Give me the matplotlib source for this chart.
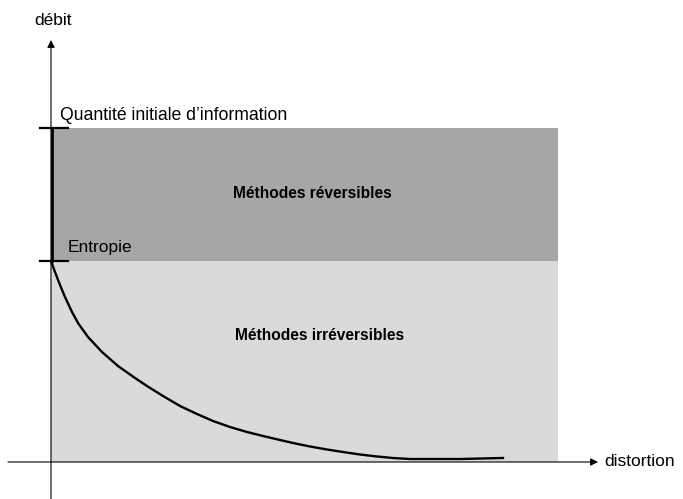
import numpy as np
import matplotlib
matplotlib.use('agg')
from matplotlib import pyplot as plt
import matplotlib.patches as mpatches

plt.rcParams['font.family'] = ['Liberation Sans', 'DejaVu Sans']

# levels of the two zones (debit units)
entropie = 2.01
quantite_initiale = 3.34
distortion_max = 5.07

# rate-distortion curve
distortion = [0.0, 0.04, 0.09, 0.14, 0.21, 0.27, 0.37, 0.51, 0.67, 0.84, 0.96,
              1.12, 1.29, 1.46, 1.62, 1.79, 1.96, 2.12, 2.29, 2.42, 2.59, 2.76,
              2.92, 3.09, 3.26, 3.42, 3.59, 4.09, 4.52]
debit = [2.01, 1.90, 1.77, 1.65, 1.50, 1.39, 1.25, 1.10, 0.96, 0.84, 0.76,
         0.66, 0.56, 0.48, 0.41, 0.35, 0.30, 0.26, 0.22, 0.19, 0.155, 0.125,
         0.10, 0.075, 0.055, 0.04, 0.03, 0.03, 0.04]

zone_labels = ['Méthodes réversibles', 'Méthodes irréversibles']

fig = plt.figure(figsize=(6.83, 4.99), dpi=100)
ax = fig.add_axes([0, 0, 1, 1])
ax.set_xlim(-0.51, 6.32)
ax.set_ylim(-0.37, 4.62)
ax.axis('off')

# shaded zones
ax.add_patch(mpatches.Rectangle((0, entropie), distortion_max, quantite_initiale - entropie,
                                facecolor='#a6a6a6', edgecolor='none', zorder=1))
ax.add_patch(mpatches.Rectangle((0, 0), distortion_max, entropie,
                                facecolor='#dadada', edgecolor='none', zorder=1))

# axes with arrows
ax.annotate('', xy=(5.47, 0), xytext=(-0.43, 0),
            arrowprops=dict(arrowstyle='-|>', lw=0.8, color='black', mutation_scale=11, shrinkA=0, shrinkB=0),
            zorder=3)
ax.annotate('', xy=(0, 4.22), xytext=(0, -0.37),
            arrowprops=dict(arrowstyle='-|>', lw=0.8, color='black', mutation_scale=11, shrinkA=0, shrinkB=0),
            zorder=3)

# thick segment between entropy and initial quantity, with ticks
ax.plot([0.01, 0.01], [entropie, quantite_initiale], color='black', lw=2.0, zorder=4)
for lvl in [entropie, quantite_initiale]:
    ax.plot([-0.11, 0.17], [lvl, lvl], color='black', lw=1.6, zorder=4)

# curve
ax.plot(distortion, debit, color='black', lw=1.7, zorder=5, solid_joinstyle='round')

# texts
ax.text(0.02, 4.42, 'débit', fontsize=12.5, ha='center', va='center')
ax.text(5.53, 0.01, 'distortion', fontsize=12.5, ha='left', va='center')
ax.text(0.09, 3.47, 'Quantité initiale d\u2019information', fontsize=12.7, ha='left', va='center')
ax.text(0.17, 2.15, 'Entropie', fontsize=12.5, ha='left', va='center')
ax.text(2.61, 2.68, zone_labels[0], fontsize=11.2, fontweight='bold', ha='center', va='center')
ax.text(2.69, 1.27, zone_labels[1], fontsize=11.2, fontweight='bold', ha='center', va='center')

plt.savefig('out.png', dpi=100)
plt.close()
